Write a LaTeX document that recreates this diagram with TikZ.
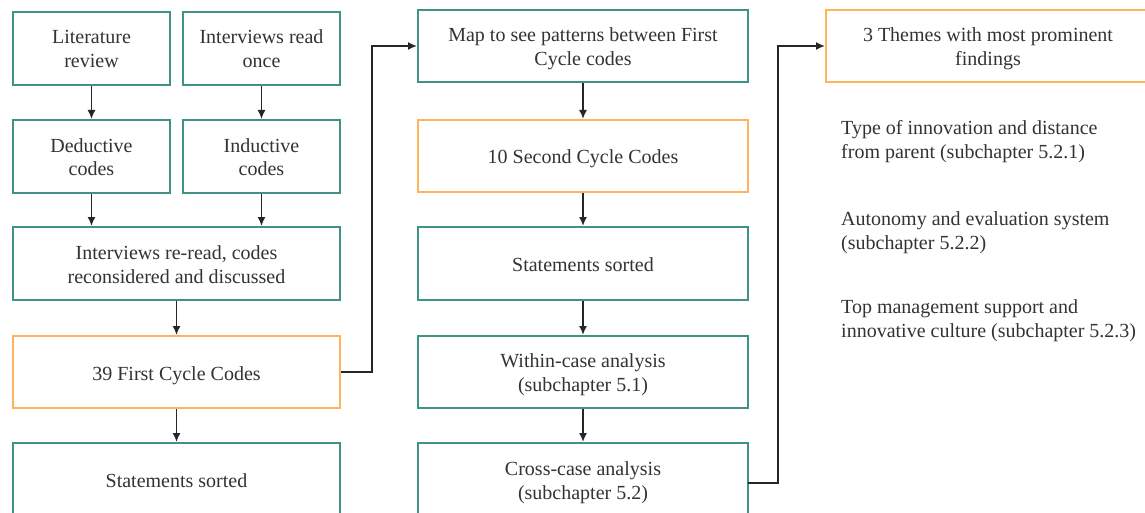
\documentclass[tikz,border=0pt]{standalone}
\usepackage{fontspec}
\setmainfont{Liberation Serif}
\newfontfamily\boxface{Liberation Serif}
\usetikzlibrary{arrows.meta}
\definecolor{tealline}{HTML}{3E9385}
\definecolor{orangeline}{HTML}{FDB45C}
\definecolor{txt}{HTML}{333333}
\tikzset{
  box/.style={draw=tealline, line width=2pt, align=center, inner sep=0pt,
    text=txt, font=\boxface\fontsize{20}{24}\selectfont,
    text height=21pt, text depth=5pt},
  twoline/.style={text height=44pt, text depth=5pt},
  keybox/.style={box, draw=orangeline},
  flow/.style={draw=black!85, line width=1.6pt, -{Latex[length=9pt,width=8pt]}},
  theme/.style={align=left, anchor=north west, inner sep=0pt, text=txt,
    font=\boxface\fontsize{20}{24}\selectfont},
}
\begin{document}
\begin{tikzpicture}[x=1pt, y=-1pt]
\clip (0,0) rectangle (1145,513);
\fill[white] (0,0) rectangle (1145,513);

% left column
\node[box, twoline, minimum width=157pt, minimum height=73pt] (lit) at (91.5,48.5) {Literature\\review};
\node[box, twoline, minimum width=157pt, minimum height=73pt] (once) at (261.5,48.5) {Interviews read\\once};
\node[box, twoline, minimum width=157pt, minimum height=73pt] (ded) at (91.5,156.5) {Deductive\\codes};
\node[box, twoline, minimum width=157pt, minimum height=73pt] (ind) at (261.5,156.5) {Inductive\\codes};
\node[box, twoline, minimum width=327pt, minimum height=73pt] (reread) at (176.5,263.5) {Interviews re-read, codes\\reconsidered and discussed};
\node[keybox, minimum width=327pt, minimum height=72pt] (first) at (176.5,372) {39 First Cycle Codes};
\node[box, minimum width=327pt, minimum height=73pt] (sortA) at (176.5,479.5) {Statements sorted};

% middle column
\node[box, twoline, minimum width=330pt, minimum height=72pt] (map) at (583,46) {Map to see patterns between First\\Cycle codes};
\node[keybox, minimum width=330pt, minimum height=72pt] (second) at (583,156) {10 Second Cycle Codes};
\node[box, minimum width=330pt, minimum height=73pt] (sortB) at (583,263.5) {Statements sorted};
\node[box, twoline, minimum width=330pt, minimum height=72pt] (within) at (583,372) {Within-case analysis\\(subchapter 5.1)};
\node[box, twoline, minimum width=330pt, minimum height=73pt] (cross) at (583,479.5) {Cross-case analysis\\(subchapter 5.2)};

% right column
\node[keybox, twoline, minimum width=324pt, minimum height=72pt] (themes) at (988,46) {3 Themes with most prominent\\findings};
\node[theme] (t1) at (841,120) {Type of innovation and distance\\from parent (subchapter 5.2.1)};
\node[theme] (t2) at (841,211) {Autonomy and evaluation system\\(subchapter 5.2.2)};
\node[theme] (t3) at (841,299) {Top management support and\\innovative culture (subchapter 5.2.3)};

% connectors
\draw[flow] (lit) -- (ded);
\draw[flow] (once) -- (ind);
\draw[flow] (ded) -- (ded |- reread.north);
\draw[flow] (ind) -- (ind |- reread.north);
\draw[flow] (reread) -- (first);
\draw[flow] (first) -- (sortA);
\coordinate (j1) at (372,0);
\draw[flow] (first.east) -| (j1 |- map.west) -- (map.west);
\draw[flow] (map) -- (second);
\draw[flow] (second) -- (sortB);
\draw[flow] (sortB) -- (within);
\draw[flow] (within) -- (cross);
\coordinate (j2) at (778,0);
\coordinate (crossout) at (748,483);
\draw[flow] (crossout) -| (j2 |- themes.west) -- (themes.west);
\end{tikzpicture}
\end{document}
